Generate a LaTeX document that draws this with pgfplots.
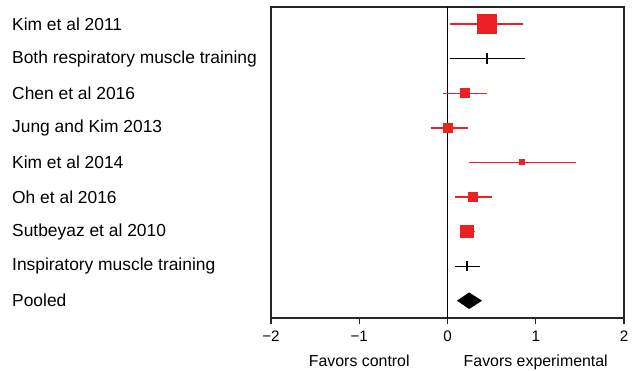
\documentclass[border=0pt]{standalone}
\usepackage{fontspec}
\setmainfont{Liberation Sans}
\usepackage{pgfplots}
\pgfplotsset{compat=1.18}
\definecolor{fred}{RGB}{237,32,36}
\begin{document}
\begin{tikzpicture}
\path[use as bounding box] (0,0) rectangle (642pt,371pt);
\begin{axis}[
  at={(271pt,53pt)}, anchor=south west,
  x=88.25pt, y=34.56pt,
  xmin=-2, xmax=2, ymin=0.5, ymax=9.5,
  axis line style={line width=1.2pt, black!85},
  xtick={-2,-1,0,1,2},
  xticklabels={−2,−1,0,1,2},
  xtick pos=bottom, xtick align=outside,
  major tick length=6pt,
  xtick style={line width=1.2pt, black!85},
  xticklabel style={font=\fontsize{15.2}{17}\selectfont, yshift=-3.5pt},
  ytick={1,...,9},
  yticklabels={Pooled, Inspiratory muscle training, Sutbeyaz et al 2010, Oh et al 2016, Kim et al 2014, Jung and Kim 2013, Chen et al 2016, Both respiratory muscle training, Kim et al 2011},
  ytick style={draw=none},
  yticklabel style={anchor=west, inner sep=0pt, xshift=-259pt, font=\fontsize{17.4}{20}\selectfont},
  clip=false,
]
% vertical line of no effect
\addplot[black, line width=1.2pt] coordinates {(0,0.5) (0,9.5)};
% confidence intervals of studies (red)
\addplot[fred, line width=1.5pt] coordinates {(0.026,9) (0.857,9)};
\addplot[fred, line width=1.5pt] coordinates {(-0.053,7) (0.446,7)};
\addplot[fred, line width=1.5pt] coordinates {(-0.189,6) (0.227,6)};
\addplot[fred, line width=1.5pt] coordinates {(0.241,5) (1.457,5)};
\addplot[fred, line width=1.5pt] coordinates {(0.083,4) (0.505,4)};
\addplot[fred, line width=1.5pt] coordinates {(0.140,3) (0.310,3)};
% study estimates (squares, size by weight)
\addplot[only marks, mark=square*, mark size=9.4pt, mark options={fill=fred, draw=fred, line width=0pt}] coordinates {(0.449,9)};
\addplot[only marks, mark=square*, mark size=4.5pt, mark options={fill=fred, draw=fred, line width=0pt}] coordinates {(0.200,7)};
\addplot[only marks, mark=square*, mark size=4.4pt, mark options={fill=fred, draw=fred, line width=0pt}] coordinates {(0.007,6)};
\addplot[only marks, mark=square*, mark size=2.5pt, mark options={fill=fred, draw=fred, line width=0pt}] coordinates {(0.846,5)};
\addplot[only marks, mark=square*, mark size=4.4pt, mark options={fill=fred, draw=fred, line width=0pt}] coordinates {(0.290,4)};
\addplot[only marks, mark=square*, mark size=6.3pt, mark options={fill=fred, draw=fred, line width=0pt}] coordinates {(0.222,3)};
% subgroup summaries (black)
\addplot[black, line width=1.3pt] coordinates {(0.026,8) (0.876,8)};
\addplot[only marks, mark=|, mark size=5.3pt, mark options={black, line width=1.3pt}] coordinates {(0.449,8)};
\addplot[black, line width=1.3pt] coordinates {(0.083,2) (0.363,2)};
\addplot[only marks, mark=|, mark size=5pt, mark options={black, line width=1.3pt}] coordinates {(0.220,2)};
% pooled diamond
\addplot[fill=black, draw=black, line width=0.5pt] coordinates {(0.113,1) (0.245,1.23) (0.385,1) (0.245,0.77)} -- cycle;
% direction labels
\node[font=\fontsize{15.9}{18}\selectfont, inner sep=0pt, anchor=base] at (axis cs:-1,0.5) [yshift=-49pt] {Favors control};
\node[font=\fontsize{15.9}{18}\selectfont, inner sep=0pt, anchor=base] at (axis cs:1,0.5) [yshift=-49pt] {Favors experimental};
\end{axis}
\end{tikzpicture}
\end{document}
